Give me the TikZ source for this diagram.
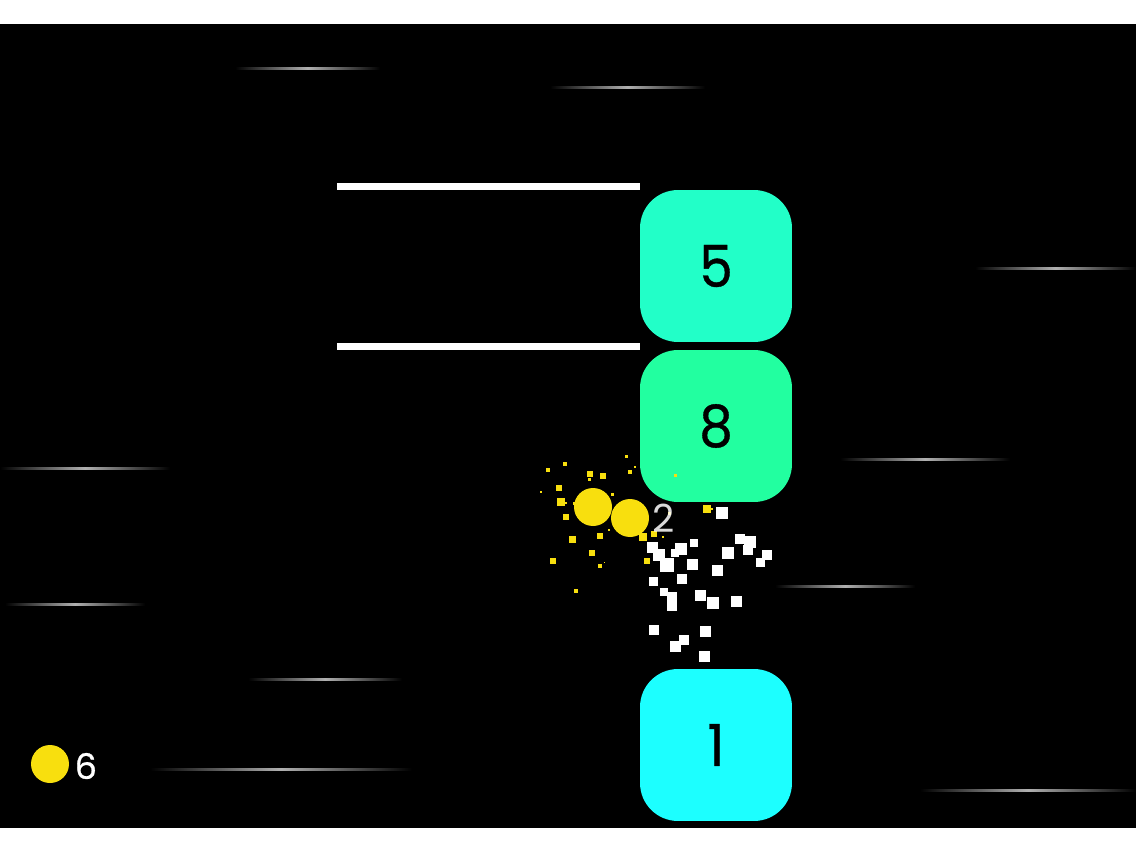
\documentclass[tikz,border=0pt]{standalone}
\usepackage{fontspec}
\setmainfont{Poppins}
\newfontfamily\tilefont[FakeStretch=0.92,FakeBold=0.6]{Poppins}
\newfontfamily\scorefont[FakeBold=0.8]{Poppins}
\usetikzlibrary{positioning}
\definecolor{tilefive}{HTML}{22FFC8}
\definecolor{tileeight}{HTML}{22FFA0}
\definecolor{tileone}{HTML}{1CFFFF}
\definecolor{ballyellow}{HTML}{F8DF0E}
\definecolor{streakgrey}{HTML}{B0B0B0}
\begin{document}
\begin{tikzpicture}[x=0.02cm,y=-0.02cm,
    tile/.style={rectangle, rounded corners=0.76cm, minimum size=3.04cm, inner sep=0pt, text=black, font=\tilefont\fontsize{33}{33}\selectfont},
    ball/.style={circle, fill=ballyellow, minimum size=0.76cm, inner sep=0pt},
    bar/.style={white, line width=0.14cm},
    streak/.style={left color=black, right color=black, middle color=streakgrey, draw=none}]
    \useasboundingbox (0,0) rectangle (1136,852);
    \fill[white] (0,0) rectangle (1136,852);
    \fill[black] (0,24) rectangle (1136,828);
    % streaks
    \foreach \xa/\xb/\yy in {235/380/68, 550/705/87, 975/1136/268, 0/170/468, 840/1010/459, 775/915/586, 5/145/604, 248/402/679, 150/412/769, 920/1136/790} {
    \shade[streak] (\xa,\yy-1) rectangle (\xb,\yy+1);
    }
    % tiles
    \node[tile, fill=tilefive] (five) at (716,266) {5};
    \node[tile, fill=tileeight] (eight) at (716,426) {8};
    \node[tile, fill=tileone] (one) at (716,745) {1};
    % walls
    \coordinate (walltop) at (337,186.5);
    \coordinate (wallbot) at (337,346);
    \draw[bar] (walltop) -- (walltop -| five.west);
    \draw[bar] (wallbot) -- (wallbot -| five.west);
    % yellow bits
    \foreach \px/\py/\ss in {565/464/4.5, 548/470/4, 590/474/6, 603/476/6.5, 626/456/3, 630/472/4.5, 589/479/3, 559/488/5.5, 561/502/7.5, 566/503/2, 574/503/3, 612/494/3, 566/517/5.5, 572/539/7, 600/536/5.5, 609/530/2, 643/537/7.5, 654/534/6.5, 647/561/5.5, 592/553/6, 553/561/5.5, 600/566/4.5, 576/591/4.5, 635/467/1.5, 541/492/1.5, 604/562/1, 707/509/7.5, 712/509/2, 663/537/2, 669/513/3, 675/475/3} {
    \fill[ballyellow] (\px-\ss/2,\py-\ss/2) rectangle (\px+\ss/2,\py+\ss/2);
    }
    % white bits
    \foreach \px/\py/\ss in {722/513/12, 652/547/11, 659/555/12, 681/549/12, 675/553/8, 694/543/8, 667/565/14, 692/564/11, 728/553/12, 717/570/11, 740/539/10, 750/542/12, 748/550/10, 767/555/10, 760/562/9, 653/581/9, 682/579/10, 664/592/8, 672/597/10, 672/606/10, 700/595/11, 713/603/12, 736/601/11, 654/630/10, 705/631/11, 684/640/10, 675/646/11, 704/656/11} {
    \fill[white] (\px-\ss/2,\py-\ss/2) rectangle (\px+\ss/2,\py+\ss/2);
    }
    % balls
    \node[ball] (lead) at (593,507) {};
    \node[ball] (tail) at (630,518) {};
    \node[ball] (counter) at (50,764) {};
    \node[right=0.06cm of tail, text=white, opacity=0.85, inner sep=0pt, font=\fontsize{22}{22}\selectfont] (ballcount) {2};
    \node[right=0.1cm of counter, yshift=-0.04cm, text=white, inner sep=0pt, font=\scorefont\fontsize{20}{20}\selectfont] (score) {6};
\end{tikzpicture}
\end{document}
